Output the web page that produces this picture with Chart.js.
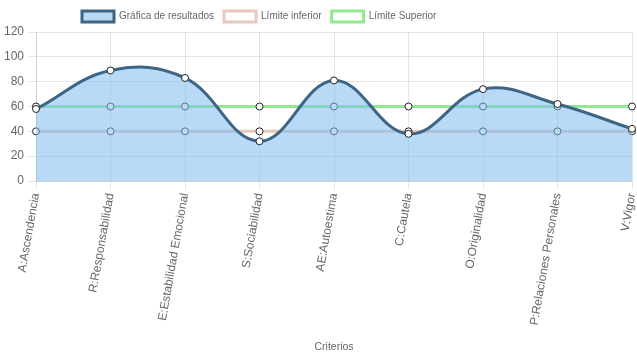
<!DOCTYPE html>
<html>
<head>
<meta charset="utf-8">
<script src="https://cdn.jsdelivr.net/npm/chart.js@4/dist/chart.umd.min.js"></script>
<style>
html,body{margin:0;padding:0;background:#fff;}
#wrap{width:637px;height:359px;position:relative;}
</style>
</head>
<body>
<div id="wrap"><canvas id="c"></canvas></div>
<script>
const categories = ["A:Ascendencia","R:Responsabilidad","E:Estabilidad Emocional","S:Sociabilidad","AE:Autoestima","C:Cautela","O:Originalidad","P:Relaciones Personales","V:Vigor"];
const resultados = [58, 89, 83, 32, 81, 38, 74, 62, 42];
const limiteInferior = [40, 40, 40, 40, 40, 40, 40, 40, 40];
const limiteSuperior = [60, 60, 60, 60, 60, 60, 60, 60, 60];
const yTicks = [0, 20, 40, 60, 80, 100, 120];

Chart.defaults.font.family = "'Liberation Sans', Arial, Helvetica, sans-serif";
Chart.defaults.font.size = 12;
Chart.defaults.color = '#666';
const small = "'Liberation Sans', Arial, Helvetica, sans-serif";

const legendShift = {
  id: 'legendShift',
  beforeDraw(chart) {
    if (chart.legend) { chart.legend.left = 72; }
  }
};

new Chart(document.getElementById('c'), {
  type: 'line',
  plugins: [legendShift],
  data: {
    labels: categories,
    datasets: [
      {
        label: 'Gráfica de resultados',
        data: resultados,
        fill: 'origin',
        backgroundColor: 'rgba(128,188,240,0.55)',
        borderColor: '#3d6585',
        borderWidth: 3,
        tension: 0.4,
        pointRadius: 3.5,
        pointBackgroundColor: '#fff',
        pointBorderColor: '#222',
        pointBorderWidth: 1
      },
      {
        label: 'Límite inferior',
        data: limiteInferior,
        fill: false,
        backgroundColor: '#fff',
        borderColor: 'rgb(232,200,186)',
        borderWidth: 3,
        tension: 0.4,
        pointRadius: 3.5,
        pointBackgroundColor: '#fff',
        pointBorderColor: '#222',
        pointBorderWidth: 1
      },
      {
        label: 'Límite Superior',
        data: limiteSuperior,
        fill: false,
        backgroundColor: '#fff',
        borderColor: 'rgb(144,232,144)',
        borderWidth: 3,
        tension: 0.4,
        pointRadius: 3.5,
        pointBackgroundColor: '#fff',
        pointBorderColor: '#222',
        pointBorderWidth: 1
      }
    ]
  },
  options: {
    responsive: true,
    maintainAspectRatio: false,
    animation: false,
    layout: { padding: { left: 0, right: 4, top: 1, bottom: 4 } },
    plugins: {
      legend: {
        position: 'top',
        align: 'start',
        labels: { boxWidth: 32, boxHeight: 11, padding: 10, color: '#666', font: { family: small, size: 10 } }
      },
      tooltip: { enabled: false }
    },
    scales: {
      x: {
        title: { display: true, text: 'Criterios', color: '#666', font: { family: small, size: 10.5 }, padding: { top: 4, bottom: 2 } },
        ticks: { minRotation: 80, maxRotation: 80, autoSkip: false, color: '#666' },
        grid: { color: 'rgba(0,0,0,0.1)', drawTicks: true, tickLength: 8 },
        border: { color: 'rgba(0,0,0,0.1)' },
        afterFit(scale) { scale.paddingRight = 0; scale.height = 174; }
      },
      y: {
        min: 0,
        max: 120,
        afterBuildTicks: (axis) => { axis.ticks = yTicks.map(v => ({ value: v })); },
        ticks: { color: '#666', padding: 4 },
        grid: { color: 'rgba(0,0,0,0.1)', drawTicks: true, tickLength: 8 },
        border: { color: 'rgba(0,0,0,0.1)' }
      }
    }
  }
});
</script>
</body>
</html>
